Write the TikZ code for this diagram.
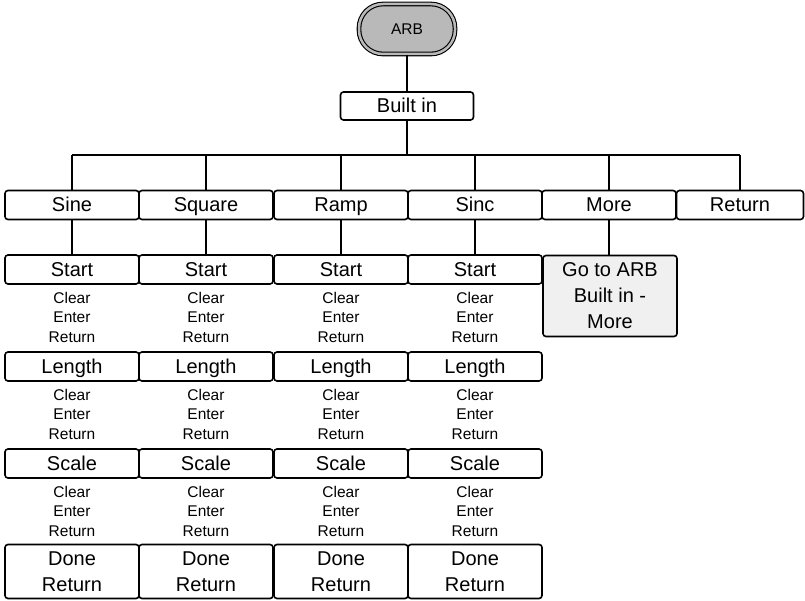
\documentclass[tikz,border=0pt]{standalone}
\usepackage{fontspec}
\setmainfont{Liberation Sans}
\begin{document}
\begin{tikzpicture}[x=1pt,y=-1pt,
  box/.style={draw, line width=1.6pt, rounded corners=3pt, minimum width=134pt, minimum height=29pt, inner sep=0pt, text height=15pt, text depth=1pt, font=\fontsize{20}{22}\selectfont},
  tallbox/.style={draw, line width=1.6pt, rounded corners=3pt, minimum width=134pt, minimum height=54pt, inner sep=0pt, align=center, font=\fontsize{20}{26}\selectfont},
  opts/.style={align=center, inner sep=0pt, font=\fontsize{15.5}{19.5}\selectfont},
  conn/.style={line width=1.6pt}]
\useasboundingbox (0,0) rectangle (805,601);
% top
\node[draw, line width=1.1pt, double=gray!55, double distance=2.5pt, fill=gray!55, rounded corners=24pt, minimum width=96pt, minimum height=50pt, font=\fontsize{15.5}{17}\selectfont] (arb) at (407,29) {ARB};
\node[box, minimum width=133pt, minimum height=28pt] (builtin) at (407,106) {Built in};
\coordinate (bus) at (407,155);
% column nodes
\foreach \n/\t/\x in {sine/Sine/72, square/Square/206, ramp/Ramp/341, sinc/Sinc/475, more/More/609}{
  \node[box] (\n) at (\x,205) {\t};
}
\node[box, minimum width=127pt] (ret) at (740,205) {Return};
\foreach \n/\x in {sine/72, square/206, ramp/341, sinc/475}{
  \node[box] (\n start) at (\x,269.5) {Start};
  \node[opts] (\n o1) at (\x,317) {Clear\\Enter\\Return};
  \node[box] (\n len) at (\x,366.5) {Length};
  \node[opts] (\n o2) at (\x,414) {Clear\\Enter\\Return};
  \node[box] (\n scale) at (\x,463.5) {Scale};
  \node[opts] (\n o3) at (\x,511) {Clear\\Enter\\Return};
  \node[tallbox] (\n done) at (\x,571.5) {Done\\Return};
  \draw[conn] (\n.south) -- (\n start.north);
}
\node[tallbox, fill=gray!12, minimum height=81pt] (goto) at (610,296) {Go to ARB\\Built in -\\More};
\draw[conn] (more.south) -- (goto.north -| more.south);
% connectors
\draw[conn] (arb.south) -- (builtin.north);
\draw[conn] (builtin.south) -- (bus);
\draw[conn] (sine.north |- bus) -- (ret.north |- bus);
\foreach \n in {sine,square,ramp,sinc,more,ret}{
  \draw[conn] (\n.north |- bus) -- (\n.north);
}
\end{tikzpicture}
\end{document}
